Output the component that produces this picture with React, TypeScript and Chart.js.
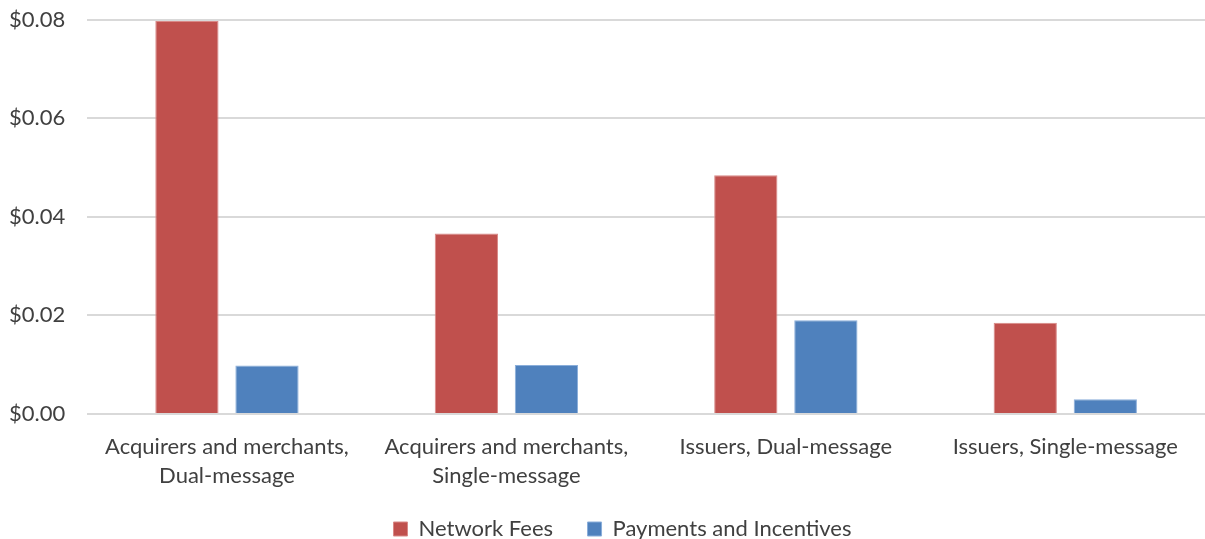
import React, { useEffect, useRef } from "react";
import { Chart, registerables } from "chart.js";

Chart.register(...registerables);

const categories: string[][] = [
  ["Acquirers and merchants,", "Dual-message"],
  ["Acquirers and merchants,", "Single-message"],
  ["Issuers, Dual-message"],
  ["Issuers, Single-message"],
];
const networkFees = [0.0797, 0.0366, 0.0484, 0.0185];
const paymentsIncentives = [0.0098, 0.0099, 0.019, 0.003];
const seriesNames = ["Network Fees", "Payments and Incentives"];

const FONT = "Lato, Carlito, Calibri, sans-serif";
const TEXT = "#404040";

const legendShift = {
  id: "legendShift",
  afterLayout(chart: any) {
    if (chart.legend) chart.legend.left += 52;
  },
};

export default function App() {
  const ref = useRef<HTMLCanvasElement | null>(null);
  useEffect(() => {
    if (!ref.current) return;
    const chart = new Chart(ref.current, {
      type: "bar",
      plugins: [legendShift],
      data: {
        labels: categories,
        datasets: [
          {
            label: seriesNames[0],
            data: networkFees,
            backgroundColor: "#C0504D",
            borderColor: "#D98987",
            borderWidth: 1,
            barPercentage: 0.79,
            categoryPercentage: 0.573,
          },
          {
            label: seriesNames[1],
            data: paymentsIncentives,
            backgroundColor: "#4F81BD",
            borderColor: "#8AAEDA",
            borderWidth: 1,
            barPercentage: 0.79,
            categoryPercentage: 0.573,
          },
        ],
      },
      options: {
        animation: false,
        responsive: true,
        maintainAspectRatio: false,
        layout: { padding: { top: 0, right: -1, left: -13, bottom: -11 } },
        plugins: {
          tooltip: { enabled: false },
          legend: {
            position: "bottom",
            labels: {
              color: TEXT,
              font: { family: FONT, size: 22 },
              boxWidth: 14,
              boxHeight: 14,
              padding: 18,
              generateLabels: (c: any) => {
                const items = Chart.defaults.plugins.legend.labels.generateLabels(c);
                items.forEach((it: any, i: number) => {
                  if (i < items.length - 1) it.text = it.text + "\u2003";
                });
                return items;
              },
            },
          },
        },
        scales: {
          x: {
            grid: { display: false },
            border: { display: false },
            ticks: {
              color: TEXT,
              font: { family: FONT, size: 22, lineHeight: 1.32 },
              maxRotation: 0,
              padding: 10,
            },
          },
          y: {
            min: 0,
            max: 0.08,
            grid: { color: "#D9D9D9", lineWidth: 2, drawTicks: false },
            border: { display: false },
            afterFit: (s: any) => {
              s.paddingTop = 19.5;
            },
            ticks: {
              stepSize: 0.02,
              color: TEXT,
              font: { family: FONT, size: 22 },
              padding: 22,
              callback: (v: any) => "$" + Number(v).toFixed(2),
            },
          },
        },
      },
    });
    return () => chart.destroy();
  }, []);
  return (
    <div style={{ position: "fixed", left: 0, top: 0, width: 1205, height: 539, background: "#fff" }}>
      <canvas ref={ref} />
    </div>
  );
}
